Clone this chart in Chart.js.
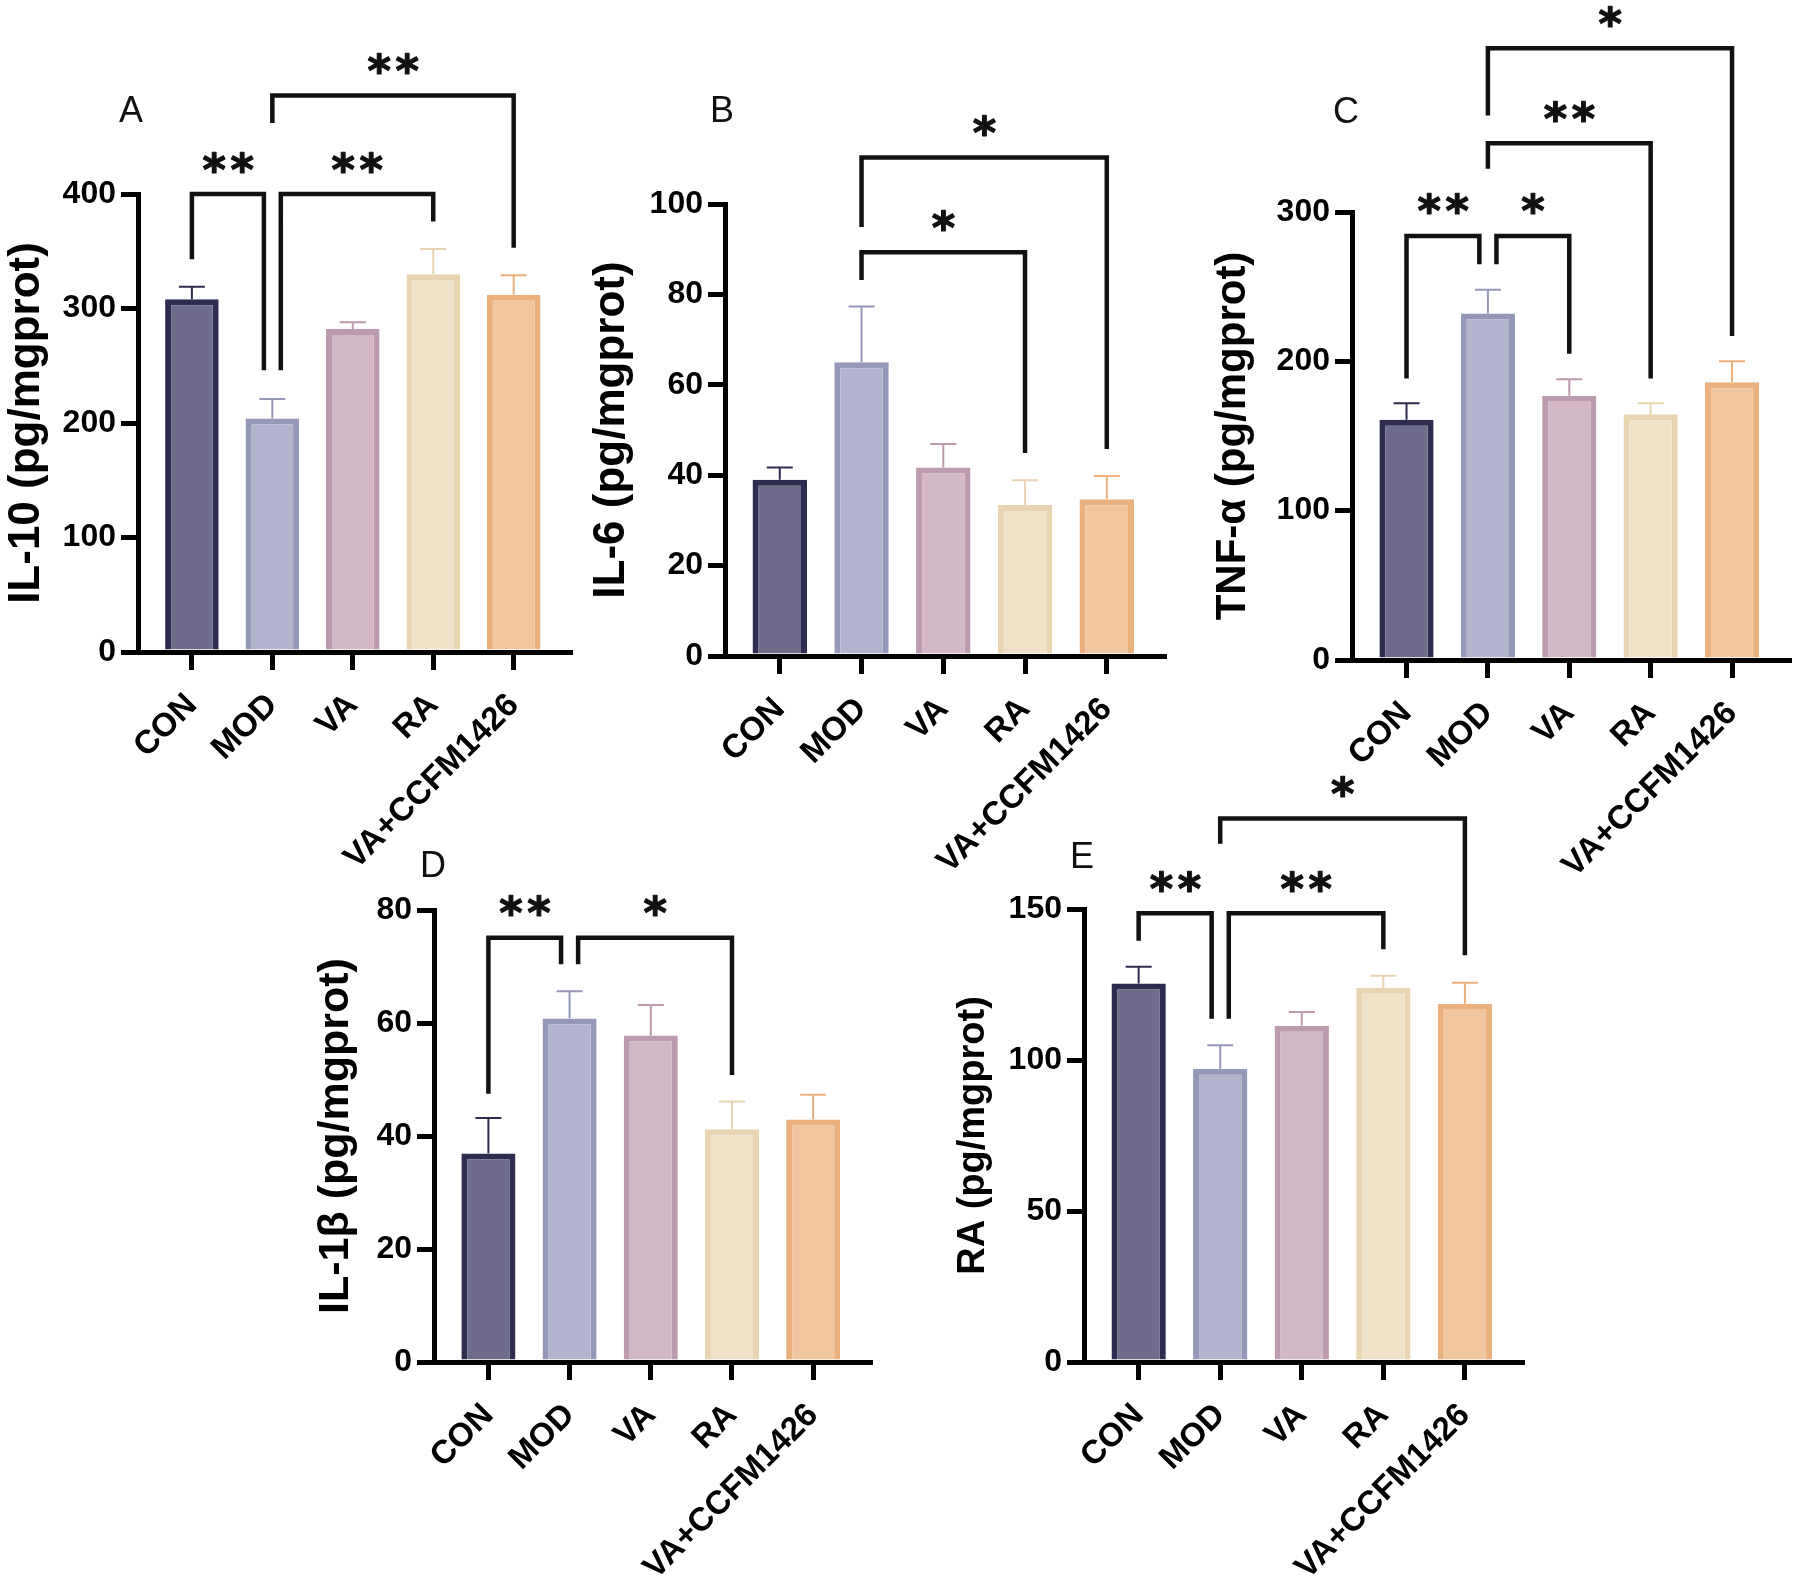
<!DOCTYPE html>
<html><head><meta charset="utf-8">
<script src="https://cdn.jsdelivr.net/npm/chart.js@4.4.0/dist/chart.umd.min.js"></script>
<style>
html,body{margin:0;padding:0;background:#fff;}
#wrap{position:relative;width:1795px;height:1583px;overflow:hidden;background:#fff;}
canvas{position:absolute;left:0;top:0;}
</style></head><body><div id="wrap">
<canvas id="cA" width="1795" height="1583"></canvas>
<canvas id="cB" width="1795" height="1583"></canvas>
<canvas id="cC" width="1795" height="1583"></canvas>
<canvas id="cD" width="1795" height="1583"></canvas>
<canvas id="cE" width="1795" height="1583"></canvas>
</div>
<script>
// ---------- data ----------
const categories = ['CON','MOD','VA','RA','VA+CCFM1426'];

const il10Mean = [308, 204, 282, 330, 312];
const il10Err  = [11, 17, 6, 22, 17];
const il6Mean  = [39.0, 65.0, 41.7, 33.4, 34.7];
const il6Err   = [2.7, 12.3, 5.2, 5.5, 5.1];
const tnfMean  = [160.8, 232.0, 177.0, 164.6, 186.0];
const tnfErr   = [11.2, 16.0, 11.0, 7.4, 14.0];
const il1bMean = [36.9, 60.8, 57.8, 41.2, 42.9];
const il1bErr  = [6.3, 4.8, 5.4, 4.9, 4.4];
const raMean   = [125.3, 97.1, 111.3, 123.9, 118.6];
const raErr    = [5.6, 7.8, 4.6, 4.0, 7.0];

const il10Ticks = [0,100,200,300,400];
const il6Ticks  = [0,20,40,60,80,100];
const tnfTicks  = [0,100,200,300];
const il1bTicks = [0,20,40,60,80];
const raTicks   = [0,50,100,150];

// significance brackets: [group a, group b, bracket level, leg-a end, leg-b end, label]
const il10Sig = [[0,1,400,343,246,'**'],[1,3,400,246,376,'**'],[1,4,486,462,353,'**']];
const il6Sig  = [[1,3,89.3,83.2,44.9,'*'],[1,4,110.3,94.9,45.8,'*']];
const tnfSig  = [[0,1,284,188.5,265,'**'],[1,2,284,265,205,'*'],[1,3,346,329,188.5,'**'],[1,4,409.6,364.6,217,'*']];
const il1bSig = [[0,1,75.1,47.5,70.4,'**'],[1,3,75.1,70.4,50.8,'*']];
const raSig   = [[0,1,148.6,139.5,113.7,'**'],[1,3,148.6,113.7,136.7,'**'],[1,4,180,171.6,134.7,'*']];

// ---------- styles ----------
const fills   = ['#6f6b8b','#b1b4cc','#d2b8c7','#efe2c9','#f1c7a1'];
const borders = ['#2f2c52','#9598b9','#bd9bae','#e8d4b1','#eab17e'];
const FONT = "'Liberation Sans', Arial, sans-serif";
const STARFONT = "'DejaVu Sans', sans-serif";
const W = 1795, H = 1583;

const panels = [
 {id:'cA', title:'IL-10 (pg/mgprot)', letter:'A', mean:il10Mean, err:il10Err, ticks:il10Ticks, sig:il10Sig,
  box:{l:138,r:570,t:194,b:652}, titleCx:27, titleSize:44, letterPos:[119,122]},
 {id:'cB', title:'IL-6 (pg/mgprot)', letter:'B', mean:il6Mean, err:il6Err, ticks:il6Ticks, sig:il6Sig,
  box:{l:725,r:1164,t:204,b:656}, titleCx:612, titleSize:44, letterPos:[710,122]},
 {id:'cC', title:'TNF-α (pg/mgprot)', letter:'C', mean:tnfMean, err:tnfErr, ticks:tnfTicks, sig:tnfSig,
  box:{l:1352,r:1789,t:212,b:660}, titleCx:1233, titleSize:42, letterPos:[1333,123]},
 {id:'cD', title:'IL-1β (pg/mgprot)', letter:'D', mean:il1bMean, err:il1bErr, ticks:il1bTicks, sig:il1bSig,
  box:{l:434,r:870,t:910,b:1362}, titleCx:336, titleSize:43, letterPos:[420,877]},
 {id:'cE', title:'RA (pg/mgprot)', letter:'E', mean:raMean, err:raErr, ticks:raTicks, sig:raSig,
  box:{l:1084,r:1522,t:909,b:1362}, titleCx:974, titleSize:38, letterPos:[1070,868]}
];

function overlay(p){
  return {
    id:'ov'+p.id,
    afterDatasetsDraw(chart){
      const xs = chart.scales.x, ys = chart.scales.y, c = chart.ctx;
      c.save();
      c.lineWidth = 2;
      p.mean.forEach((m,i)=>{
        const x = xs.getPixelForValue(i);
        const y0 = ys.getPixelForValue(m);
        const y1 = ys.getPixelForValue(m + p.err[i]);
        c.strokeStyle = borders[i];
        c.beginPath();
        c.moveTo(x, y0); c.lineTo(x, y1);
        c.moveTo(x-13, y1); c.lineTo(x+13, y1);
        c.stroke();
      });
      c.restore();
    },
    afterDraw(chart){
      const xs = chart.scales.x, ys = chart.scales.y, c = chart.ctx;
      c.save();
      c.strokeStyle = '#111'; c.lineWidth = 4.5; c.lineJoin = 'miter'; c.lineCap = 'butt';
      c.font = `bold 100px ${STARFONT}`;
      const m0 = c.measureText('*');
      const ink0 = m0.actualBoundingBoxAscent + m0.actualBoundingBoxDescent;
      const starSize = 100 * 21 / ink0;
      p.sig.forEach((s,k)=>{
        const [a,b,yv,ya,yb,label] = s;
        let da = 0, db = 0;
        p.sig.forEach((o,j)=>{
          if (j===k || o[2]!==yv) return;
          if (o[0]===b) db = -0.105;
          if (o[1]===a) da = 0.105;
        });
        const xa = xs.getPixelForValue(a+da), xb = xs.getPixelForValue(b+db);
        const y = ys.getPixelForValue(yv);
        c.strokeStyle = '#111'; c.lineWidth = 4.5;
        c.beginPath();
        c.moveTo(xa, ys.getPixelForValue(ya));
        c.lineTo(xa, y); c.lineTo(xb, y);
        c.lineTo(xb, ys.getPixelForValue(yb));
        c.stroke();
        // stars
        c.fillStyle = '#111';
        c.font = `bold ${starSize}px ${STARFONT}`;
        c.textAlign = 'left'; c.textBaseline = 'alphabetic';
        const mm = c.measureText('*');
        const cxOff = (mm.actualBoundingBoxRight - mm.actualBoundingBoxLeft)/2;
        const cyOff = (mm.actualBoundingBoxDescent - mm.actualBoundingBoxAscent)/2;
        const n = label.length, cx = (xa+xb)/2, cy = y - 32;
        c.lineWidth = 1.2; c.strokeStyle = '#111'; c.lineJoin = 'round';
        for (let i=0;i<n;i++){
          const sx = cx + (i-(n-1)/2)*28;
          c.fillText('*', sx - cxOff, cy - cyOff);
          c.strokeText('*', sx - cxOff, cy - cyOff);
        }
        c.lineJoin = 'miter';
      });
      // panel letter
      c.fillStyle = '#111';
      c.font = `36px ${FONT}`;
      c.textAlign = 'left'; c.textBaseline = 'alphabetic';
      c.fillText(p.letter, p.letterPos[0], p.letterPos[1]);
      c.restore();
    }
  };
}

function makeChart(p){
  const Wy = p.box.l - (p.titleCx - 0.6*p.titleSize);
  const Hx = H - p.box.b - 4;
  new Chart(document.getElementById(p.id), {
    type:'bar',
    data:{ datasets:[{
      data: p.mean.map((v,i)=>({x:i, y:v})),
      backgroundColor: fills, borderColor: borders, borderWidth: 6, borderSkipped: 'start',
      barPercentage: 0.666, categoryPercentage: 1
    }]},
    options:{
      responsive:false, maintainAspectRatio:false, animation:false, devicePixelRatio:1,
      layout:{padding:{left:p.box.l - Wy, right:W - p.box.r, top:p.box.t, bottom:H - p.box.b - Hx}},
      plugins:{legend:{display:false}, tooltip:{enabled:false}},
      scales:{
        x:{
          type:'linear', min:-0.67, max:4.7, offset:false,
          afterBuildTicks:s=>{ s.ticks = categories.map((c,i)=>({value:i})); },
          afterFit:s=>{ s.height = Hx; },
          ticks:{autoSkip:false, maxRotation:45, minRotation:45, callback:(v)=>categories[v],
                 font:{family:FONT, size:33, weight:'bold'}, color:'#000', padding:16},
          grid:{display:true, offset:false, drawOnChartArea:false, drawTicks:true, tickLength:18, lineWidth:5, color:'#000'},
          border:{display:true, width:5, color:'#000'}
        },
        y:{
          min:0, max:p.ticks[p.ticks.length-1],
          afterBuildTicks:s=>{ s.ticks = p.ticks.map(v=>({value:v})); },
          afterFit:s=>{ s.width = Wy; },
          ticks:{font:{family:FONT, size:32, weight:'bold'}, color:'#000', padding:5},
          grid:{display:true, drawOnChartArea:false, drawTicks:true, tickLength:17, lineWidth:5, color:'#000'},
          border:{display:true, width:5, color:'#000'},
          title:{display:true, text:p.title, font:{family:FONT, size:p.titleSize, weight:'bold'}, color:'#000', padding:0}
        }
      }
    },
    plugins:[overlay(p)]
  });
}
panels.forEach(makeChart);
</script>
</body></html>
